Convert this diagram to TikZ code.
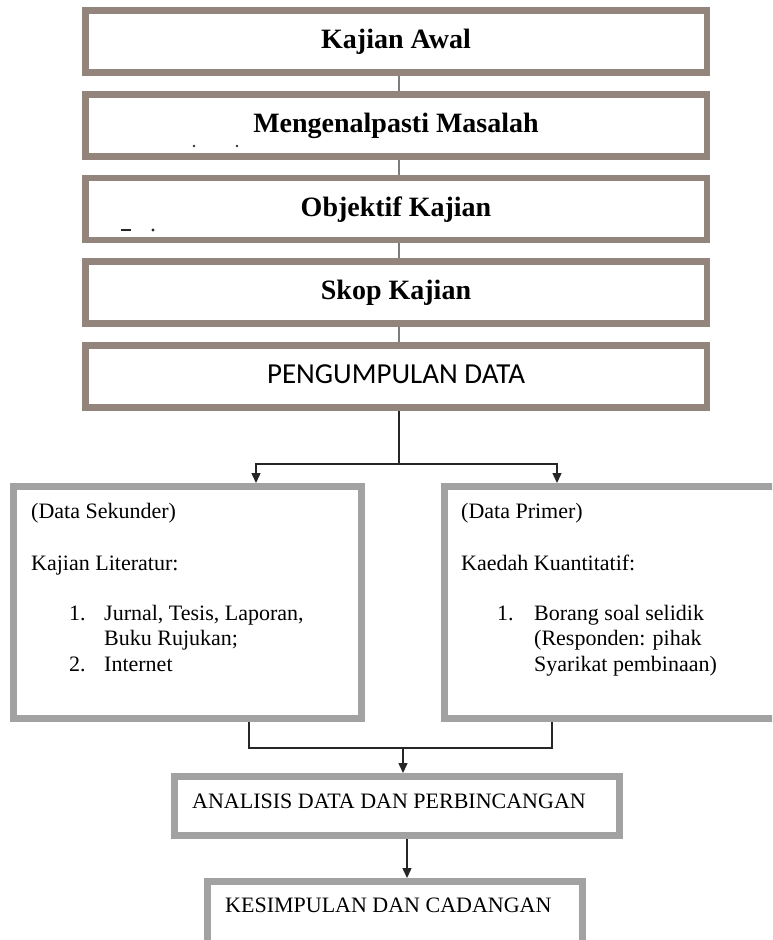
\documentclass[tikz,border=0pt]{standalone}
\usepackage{fontspec}
\setmainfont{Liberation Serif}
\newfontfamily\calibfont{Carlito}
\usetikzlibrary{arrows.meta}
\definecolor{topbrd}{RGB}{147,133,124}
\definecolor{lowbrd}{RGB}{162,162,162}
\definecolor{lnkgray}{RGB}{125,125,125}
\begin{document}
\begin{tikzpicture}[x=1pt,y=-1pt,
  topbox/.style={draw=topbrd, line width=6.5pt, minimum width=621.5pt, minimum height=62pt,
    inner sep=0pt, font=\fontsize{28}{32}\selectfont\bfseries, text height=19pt, text depth=5pt},
  lowbox/.style={draw=lowbrd, line width=7pt, inner sep=0pt},
  txt/.style={anchor=base west, inner sep=0pt, font=\fontsize{22}{26}\selectfont},
  toplink/.style={draw=lnkgray, line width=1.4pt},
  link/.style={draw=black!85, line width=1.4pt},
  arrowlink/.style={link, -{Triangle[width=9pt,length=10pt]}},
]
\useasboundingbox (0,0) rectangle (772,940);
\clip (0,0) rectangle (772,940);

% top boxes
\node[topbox] (b1) at (396,41.5) {Kajian Awal};
\node[topbox] (b2) at (396,125.5) {Mengenalpasti Masalah};
\node[topbox] (b3) at (396,209) {Objektif Kajian};
\node[topbox] (b4) at (396,292.5) {Skop Kajian};
\node[topbox, font=\fontsize{29}{32}\calibfont, text height=19pt, text depth=6pt] (b5) at (396,376.5) {PENGUMPULAN DATA};

% stray marks
\fill[black!80] (194,146) circle (1.3);
\fill[black!80] (237,146) circle (1.3);
\fill[black!85] (121,228.8) rectangle (131,231.2);
\fill[black!85] (153,230) circle (1.6);

\draw[toplink] ([xshift=3pt]b1.south) -- ([xshift=3pt]b2.north);
\draw[toplink] ([xshift=3pt]b2.south) -- ([xshift=3pt]b3.north);
\draw[toplink] ([xshift=3pt]b3.south) -- ([xshift=3pt]b4.north);
\draw[toplink] ([xshift=3pt]b4.south) -- ([xshift=3pt]b5.north);

% lower boxes
\node[lowbox, minimum width=348pt, minimum height=232pt] (lbox) at (187.5,602.5) {};
\node[lowbox, minimum width=352pt, minimum height=232pt] (rbox) at (620.5,602.5) {};

\node[txt] (ls1) at (31,518) {(Data Sekunder)};
\node[txt] (ls2) at (31,570) {Kajian Literatur:};
\node[txt] (ls3) at (69,620) {1.};
\node[txt] (ls4) at (104,620) {Jurnal, Tesis, Laporan,};
\node[txt] (ls5) at (104,645.5) {Buku Rujukan;};
\node[txt] (ls6) at (69,671) {2.};
\node[txt] (ls7) at (104,671) {Internet};

\node[txt] (rs1) at (461,518) {(Data Primer)};
\node[txt] (rs2) at (461,570) {Kaedah Kuantitatif:};
\node[txt] (rs3) at (497,620) {1.};
\node[txt] (rs4) at (534,620) {Borang soal selidik};
\node[txt] (rs5) at (534,645.5) {(Responden: pihak};
\node[txt] (rs6) at (534,671) {Syarikat pembinaan)};

% split from PENGUMPULAN DATA
\coordinate (split) at (399,464);
\coordinate (la) at (256,483);
\coordinate (ra) at (557,483);
\draw[link] (split |- b5.south) -- (split);
\draw[arrowlink] (split) -| (la);
\draw[arrowlink] (split) -| (ra);

% analysis and conclusion
\node[lowbox, minimum width=445pt, minimum height=59pt] (an) at (397,806) {};
\node[txt] (antext) at (192,808.5) {ANALISIS DATA DAN PERBINCANGAN};
\node[lowbox, minimum width=375pt, minimum height=75pt] (ks) at (395,919) {};
\node[txt] (kstext) at (225,912.5) {KESIMPULAN DAN CADANGAN};

% join from lower boxes
\coordinate (lb) at (249,722);
\coordinate (rb) at (552,722);
\coordinate (join) at (403,748);
\draw[link] (lb) |- (join) -| (rb);
\draw[arrowlink] (join) -- (join |- an.north);
\coordinate (c2) at (407,839);
\draw[arrowlink] (c2) -- (c2 |- ks.north);
\end{tikzpicture}
\end{document}
